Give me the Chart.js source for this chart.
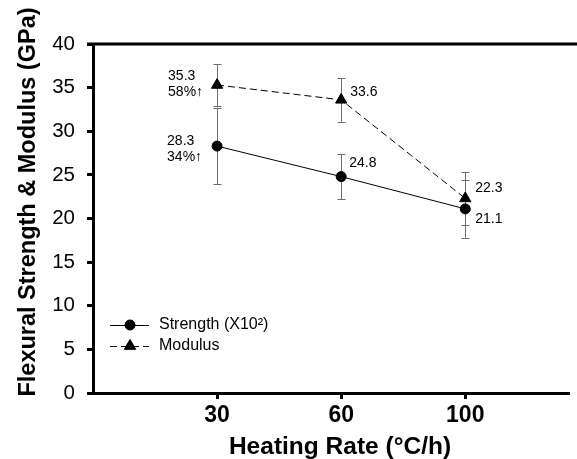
<!DOCTYPE html>
<html lang="en">
<head>
<meta charset="UTF-8">
<title>Flexural Strength &amp; Modulus</title>
<script src="https://cdn.jsdelivr.net/npm/chart.js"></script>
<style>
  html, body { margin: 0; padding: 0; background: #fff; }
  #wrap { width: 577px; height: 459px; }
</style>
</head>
<body>
<div id="wrap"><canvas id="chart"></canvas></div>
<script>
// heating rates (x categories, plotted at positions 1..3)
const rates = ['30', '60', '100'];
const strength = [28.3, 24.8, 21.1];
const strengthErr = [4.4, 2.6, 3.3];
const modulus = [35.3, 33.6, 22.3];
const modulusErr = [2.4, 2.5, 3.0];
const strengthText = [['28.3', '34%\u2191'], ['24.8'], ['21.1']];
const modulusText = [['35.3', '58%\u2191'], ['33.6'], ['22.3']];
const yTicks = [0, 5, 10, 15, 20, 25, 30, 35, 40];
const xTitle = 'Heating Rate (\u00b0C/h)';
const yTitle = 'Flexural Strength & Modulus (GPa)';

const FONT = '"Liberation Sans", Arial, sans-serif';

// where each value label sits relative to its point
const labelPlace = [
    [{dx: -50, dy: -5}, {dx: 8, dy: -13}, {dx: 10, dy: 10}],
    [{dx: -49, dy: -9}, {dx: 9, dy: -8}, {dx: 10, dy: -10}]
];
const errs = [strengthErr, modulusErr];
const texts = [strengthText, modulusText];

const errorBars = {
    id: 'errorBars',
    beforeDatasetsDraw(chart) {
        const ctx = chart.ctx;
        const y = chart.scales.y;
        ctx.save();
        ctx.strokeStyle = '#6e6e6e';
        ctx.lineWidth = 1;
        chart.data.datasets.forEach((ds, d) => {
            chart.getDatasetMeta(d).data.forEach((pt, i) => {
                const v = ds.data[i].y;
                const top = y.getPixelForValue(v + errs[d][i]);
                const bot = y.getPixelForValue(v - errs[d][i]);
                const x = Math.round(pt.x) + 0.5;
                ctx.beginPath();
                ctx.moveTo(x, top); ctx.lineTo(x, bot);
                ctx.moveTo(x - 4, Math.round(top) + 0.5); ctx.lineTo(x + 4, Math.round(top) + 0.5);
                ctx.moveTo(x - 4, Math.round(bot) + 0.5); ctx.lineTo(x + 4, Math.round(bot) + 0.5);
                ctx.stroke();
            });
        });
        ctx.restore();
    }
};

const extras = {
    id: 'extras',
    afterDraw(chart) {
        const ctx = chart.ctx;
        const area = chart.chartArea;
        ctx.save();
        // top frame line
        ctx.strokeStyle = '#000';
        ctx.lineWidth = 3;
        ctx.beginPath();
        ctx.moveTo(area.left - 6, area.top);
        ctx.lineTo(chart.width, area.top);
        ctx.stroke();

        // axis titles
        ctx.fillStyle = '#000';
        ctx.textAlign = 'center';
        ctx.textBaseline = 'alphabetic';
        ctx.font = 'bold 24.5px ' + FONT;
        ctx.fillText(xTitle, 340, 454);
        ctx.save();
        ctx.translate(35, 202);
        ctx.rotate(-Math.PI / 2);
        ctx.font = 'bold 23.5px ' + FONT;
        ctx.fillText(yTitle, 0, 0);
        ctx.restore();

        // value labels
        ctx.font = '14px ' + FONT;
        ctx.textBaseline = 'middle';
        ctx.textAlign = 'left';
        texts.forEach((set, d) => {
            const meta = chart.getDatasetMeta(d);
            set.forEach((lines, i) => {
                const p = meta.data[i];
                const pl = labelPlace[d][i];
                lines.forEach((t, k) => {
                    ctx.fillText(t, p.x + pl.dx, p.y + pl.dy + k * 16);
                });
            });
        });

        // legend
        ctx.font = '16px ' + FONT;
        chart.data.datasets.forEach((ds, d) => {
            const ly = 325 + d * 21;
            ctx.strokeStyle = '#000';
            ctx.lineWidth = 1;
            ctx.setLineDash(ds.borderDash || []);
            ctx.beginPath();
            ctx.moveTo(110, ly + 0.5);
            ctx.lineTo(149, ly + 0.5);
            ctx.stroke();
            ctx.setLineDash([]);
            Chart.helpers.drawPoint(ctx, {pointStyle: ds.pointStyle, radius: ds.pointRadius, borderWidth: 1}, 130, ly);
            ctx.fillStyle = '#000';
            ctx.fill();
            ctx.fillText(ds.label, 159, ly);
        });
        ctx.restore();
    }
};

new Chart(document.getElementById('chart'), {
    type: 'line',
    data: {
        datasets: [{
            label: 'Strength (X10\u00b2)',
            data: strength.map((v, i) => ({x: i + 1, y: v})),
            borderColor: '#000',
            borderWidth: 1,
            backgroundColor: '#000',
            pointStyle: 'circle',
            pointRadius: 5,
            pointBorderWidth: 1,
            pointBackgroundColor: '#000',
            tension: 0
        }, {
            label: 'Modulus',
            data: modulus.map((v, i) => ({x: i + 1, y: v})),
            borderColor: '#000',
            borderWidth: 1,
            borderDash: [7, 4],
            backgroundColor: '#000',
            pointStyle: 'triangle',
            pointRadius: 6.5,
            pointBorderWidth: 1,
            pointBackgroundColor: '#000',
            tension: 0
        }]
    },
    options: {
        responsive: true,
        maintainAspectRatio: false,
        animation: false,
        events: [],
        layout: {padding: {top: 44, right: 0, left: 0, bottom: 0}},
        plugins: {legend: {display: false}, tooltip: {enabled: false}},
        scales: {
            x: {
                type: 'linear',
                min: 0,
                max: 3.84,
                afterBuildTicks: s => { s.ticks = rates.map((r, i) => ({value: i + 1})); },
                afterFit: s => { s.height = 66; },
                ticks: {
                    callback: v => rates[v - 1],
                    color: '#000',
                    padding: 3,
                    font: {family: FONT, size: 23, weight: 'bold'},
                    maxRotation: 0
                },
                grid: {drawOnChartArea: false, drawTicks: true, tickLength: 6, tickWidth: 3, tickColor: '#000'},
                border: {color: '#000', width: 3}
            },
            y: {
                min: 0,
                max: 40,
                afterBuildTicks: s => { s.ticks = yTicks.map(v => ({value: v})); },
                afterFit: s => { s.width = 93; },
                ticks: {
                    color: '#000',
                    padding: 12,
                    font: {family: FONT, size: 20.5}
                },
                grid: {drawOnChartArea: false, drawTicks: true, tickLength: 6, tickWidth: 3, tickColor: '#000'},
                border: {color: '#000', width: 3}
            }
        }
    },
    plugins: [errorBars, extras]
});
</script>
</body>
</html>
